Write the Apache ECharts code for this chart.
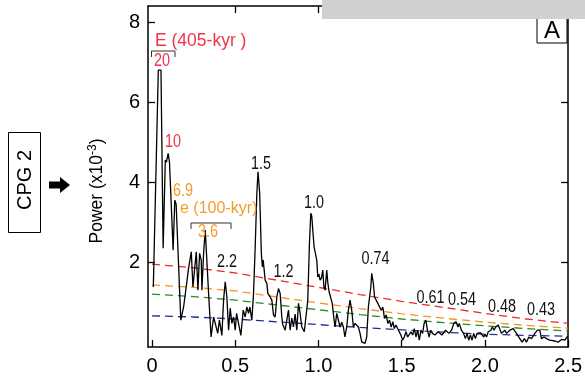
<!DOCTYPE html>
<html>
<head>
<meta charset="utf-8">
<script src="https://cdn.jsdelivr.net/npm/echarts@6/dist/echarts.min.js"></script>
<style>html,body{margin:0;padding:0;background:#fff;}#c{width:585px;height:378px;}</style>
</head>
<body>
<div id="c"></div>
<script>
// ---- data ----
const spectrum = [[0.008,1.38],[0.038,6.8],[0.054,6.8],[0.067,2.35],[0.08,4.55],[0.087,4.5],[0.097,4.72],[0.105,4.5],[0.127,2.3],[0.137,3.55],[0.145,3.45],[0.173,0.55],[0.19,0.88],[0.2,0.92],[0.22,1.85],[0.236,2.26],[0.246,1.38],[0.266,2.26],[0.276,1.3],[0.286,2.22],[0.296,2.05],[0.3,1.3],[0.31,2.22],[0.32,2.8],[0.34,1.22],[0.355,0.13],[0.37,0.63],[0.38,0.47],[0.395,0.22],[0.405,0.55],[0.42,0.17],[0.43,1.05],[0.44,1.51],[0.45,1.13],[0.46,0.3],[0.47,0.85],[0.48,0.47],[0.49,0.63],[0.5,0.3],[0.508,0.72],[0.524,0.38],[0.534,0.17],[0.548,0.8],[0.56,0.63],[0.57,0.88],[0.58,0.72],[0.588,0.88],[0.6,0.55],[0.61,1.22],[0.62,2.38],[0.63,3.72],[0.637,4.26],[0.647,3.72],[0.657,2.22],[0.663,1.88],[0.668,2.05],[0.68,1.55],[0.69,1.47],[0.696,1.22],[0.71,1.13],[0.72,1.05],[0.73,0.68],[0.74,0.63],[0.75,1.13],[0.76,1.34],[0.77,1.22],[0.78,0.63],[0.785,0.45],[0.8,0.3],[0.81,0.55],[0.82,0.8],[0.83,0.3],[0.84,0.6],[0.85,0.38],[0.86,0.7],[0.87,0.3],[0.88,0.97],[0.89,0.72],[0.9,0.38],[0.915,0.26],[0.927,0.22],[0.936,1.05],[0.946,2.47],[0.954,3.22],[0.96,3.15],[0.966,2.8],[0.974,2.38],[0.98,2.34],[0.99,2.05],[0.996,1.63],[1.003,1.7],[1.01,1.55],[1.018,1.6],[1.026,1.8],[1.033,1.38],[1.04,1.3],[1.05,1.8],[1.056,1.5],[1.064,1.26],[1.073,1.22],[1.083,0.97],[1.093,0.59],[1.1,0.38],[1.11,0.72],[1.12,0.72],[1.13,0.38],[1.14,0.5],[1.15,0.38],[1.159,0.13],[1.17,0.38],[1.18,0.8],[1.19,1.05],[1.2,0.8],[1.21,0.38],[1.22,0.47],[1.23,0.43],[1.24,0.38],[1.25,0.22],[1.26,0.01],[1.27,-0.03],[1.28,-0.03],[1.29,0.13],[1.3,0.88],[1.31,1.22],[1.315,1.38],[1.32,1.72],[1.33,1.47],[1.337,1.13],[1.347,1.13],[1.357,0.97],[1.367,1.01],[1.377,0.8],[1.387,0.88],[1.397,0.59],[1.407,0.68],[1.417,0.47],[1.427,0.55],[1.437,0.38],[1.447,0.51],[1.456,0.34],[1.466,0.43],[1.476,0.34],[1.486,0.38],[1.496,0.17],[1.506,0.05],[1.516,0.13],[1.526,0.26],[1.536,0.13],[1.546,0.09],[1.556,0.26],[1.566,0.18],[1.576,0.34],[1.586,0.13],[1.596,0.3],[1.606,0.05],[1.616,0.3],[1.626,0.22],[1.635,0.47],[1.645,0.55],[1.655,0.3],[1.665,0.13],[1.675,0.3],[1.685,0.22],[1.7,0.18],[1.72,0.26],[1.742,0.18],[1.764,0.3],[1.784,0.22],[1.8,0.3],[1.813,0.47],[1.827,0.51],[1.838,0.38],[1.846,0.47],[1.859,0.3],[1.872,0.22],[1.883,0.09],[1.893,0.22],[1.903,0.05],[1.913,0.18],[1.923,0.05],[1.933,0.22],[1.943,0.09],[1.953,0.22],[1.963,0.18],[1.973,0.24],[1.983,0.22],[1.993,0.13],[2.0,0.2],[2.01,0.13],[2.02,0.26],[2.036,0.3],[2.045,0.38],[2.055,0.3],[2.065,0.38],[2.075,0.34],[2.08,0.43],[2.09,0.47],[2.1,0.22],[2.11,0.26],[2.12,0.3],[2.13,0.22],[2.15,0.3],[2.17,0.34],[2.19,0.22],[2.21,0.09],[2.224,0.0],[2.237,0.09],[2.25,0.0],[2.264,0.13],[2.28,0.09],[2.3,0.22],[2.316,0.3],[2.33,0.3],[2.34,0.09],[2.355,0.13],[2.37,0.09],[2.38,0.07],[2.39,0.05],[2.4,0.09],[2.42,0.03],[2.44,0.0],[2.46,0.07],[2.48,0.05],[2.494,0.13],[2.5,0.15]];
const confFreq = [0,0.25,0.5,0.75,1.0,1.25,1.5,1.75,2.0,2.25,2.5];
const conf99 = [1.95,1.86,1.73,1.55,1.37,1.19,1.02,0.87,0.72,0.58,0.47];
const conf95 = [1.43,1.37,1.28,1.13,0.98,0.84,0.71,0.60,0.50,0.42,0.35];
const conf90 = [1.20,1.14,1.05,0.93,0.81,0.69,0.58,0.49,0.41,0.34,0.28];
const confMed = [0.66,0.63,0.58,0.51,0.44,0.37,0.31,0.25,0.20,0.17,0.15];
const xTicks = [0,0.5,1.0,1.5,2.0,2.5];
const yTicks = [2,4,6,8];

const chart = echarts.init(document.getElementById('c'), null, {renderer:'canvas'});
const zip = (xs, ys) => xs.map((x,i)=>[x, ys[i]]);
const FONT = '"Liberation Sans", Arial, sans-serif';
const RED = '#ef3349', ORANGE = '#f59b2b';
function num(text, cx, cy, color) {
  return {type:'text', x:cx, y:cy, scaleX:0.8, z:50,
    style:{text:text, fill:color||'#111', font:'18px ' + FONT, align:'center', verticalAlign:'middle'}};
}
function dashSeries(data, color) {
  return {type:'line', data: zip(confFreq, data), showSymbol:false, symbol:'none', z:3,
    lineStyle:{color:color, width:1.3, type:[8,5]}, silent:true};
}
const option = {
  animation:false,
  grid:{left:148, right:13, top:6, bottom:31},
  xAxis:[
    {type:'value', min:-0.024, max:2.5, position:'bottom',
     axisLine:{show:true, onZero:false, lineStyle:{color:'#000', width:1.5}},
     axisTick:{show:true, inside:true, length:7, lineStyle:{color:'#000', width:1.3}, customValues:xTicks},
     axisLabel:{show:true, customValues:xTicks, fontSize:20, color:'#000', fontFamily:FONT, margin:9,
       formatter:v => v===0 ? '0' : v.toFixed(1)},
     splitLine:{show:false}},
    {type:'value', min:-0.024, max:2.5, position:'top',
     axisLine:{show:true, onZero:false, lineStyle:{color:'#000', width:1.5}},
     axisTick:{show:true, inside:true, length:7, lineStyle:{color:'#000', width:1.3}, customValues:[0.5,1.0,1.5,2.0]},
     axisLabel:{show:false}, splitLine:{show:false}}
  ],
  yAxis:[
    {type:'value', min:-0.12, max:8.4, position:'left',
     axisLine:{show:true, onZero:false, lineStyle:{color:'#000', width:1.5}},
     axisTick:{show:true, inside:true, length:7, lineStyle:{color:'#000', width:1.3}, customValues:yTicks},
     axisLabel:{show:true, customValues:yTicks, fontSize:20, color:'#000', fontFamily:FONT, margin:8},
     splitLine:{show:false}},
    {type:'value', min:-0.12, max:8.4, position:'right',
     axisLine:{show:true, onZero:false, lineStyle:{color:'#000', width:1.5}},
     axisTick:{show:true, inside:true, length:7, lineStyle:{color:'#000', width:1.3}, customValues:yTicks},
     axisLabel:{show:false}, splitLine:{show:false}}
  ],
  series:[
    dashSeries(conf99, '#ec2a2a'),
    dashSeries(conf95, '#f7941d'),
    dashSeries(conf90, '#2a8a2a'),
    dashSeries(confMed, '#1f2d9c'),
    {type:'line', data:spectrum, showSymbol:false, symbol:'none', z:4,
     lineStyle:{color:'#000', width:1.3}, silent:true}
  ],
  graphic:[
    {type:'rect', shape:{x:322, y:0, width:263, height:19}, style:{fill:'#cfd0d2'}, z:60},
    {type:'rect', shape:{x:537, y:15, width:30, height:28}, style:{fill:'#fff', stroke:'#000', lineWidth:1}, z:55},
    {type:'text', x:552, y:31, z:56, style:{text:'A', font:'24px ' + FONT, fill:'#000', align:'center', verticalAlign:'middle'}},
    {type:'rect', shape:{x:8.5, y:132.5, width:32, height:100}, style:{fill:'#fff', stroke:'#000', lineWidth:1}, z:50},
    {type:'text', x:25, y:180, rotation:Math.PI/2, z:51, style:{text:'CPG 2', font:'20px ' + FONT, fill:'#000', align:'center', verticalAlign:'middle'}},
    {type:'polygon', shape:{points:[[49,181.5],[60,181.5],[60,177],[70,185],[60,193],[60,188.5],[49,188.5]]}, style:{fill:'#000'}, z:50},
    {type:'text', x:97, y:191, rotation:Math.PI/2, z:50,
     style:{text:'Power (x10{sup|-3})', font:'17.5px ' + FONT, fill:'#000', align:'center', verticalAlign:'middle',
       rich:{sup:{fontSize:12, fontFamily:FONT, verticalAlign:'top', padding:[0,0,8,0]}}}},
    {type:'text', x:155, y:41, z:50, style:{text:'E (405-kyr )', fill:RED, font:'17.5px ' + FONT, align:'left', verticalAlign:'middle'}},
    {type:'polyline', shape:{points:[[151.5,57],[151.5,51],[175,51],[175,57]]}, style:{stroke:'#333', lineWidth:1, fill:null}, z:50},
    num('20', 162, 61, RED),
    num('10', 173, 142, RED),
    num('6.9', 183, 191, ORANGE),
    {type:'text', x:180, y:209, z:50, style:{text:'e (100-kyr)', fill:ORANGE, font:'16px ' + FONT, align:'left', verticalAlign:'middle'}},
    {type:'polyline', shape:{points:[[191,229],[191,223],[231,223],[231,229]]}, style:{stroke:'#333', lineWidth:1, fill:null}, z:50},
    num('3.6', 208, 232, ORANGE),
    num('2.2', 227, 262),
    num('1.5', 261, 164),
    num('1.2', 283.5, 272),
    num('1.0', 314, 203),
    num('0.74', 375.5, 259),
    num('0.61', 430.5, 298),
    num('0.54', 462, 300),
    num('0.48', 502, 307),
    num('0.43', 541, 310)
  ]
};
chart.setOption(option);
</script>
</body>
</html>
